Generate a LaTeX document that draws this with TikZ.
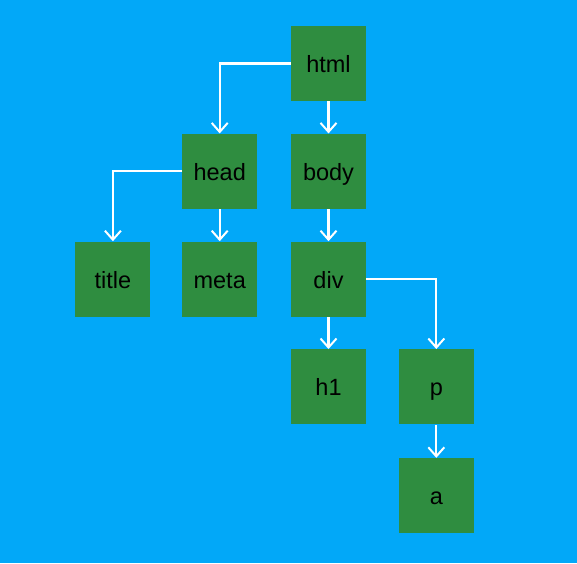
\documentclass[tikz,border=0pt]{standalone}
\usepackage{fontspec}
\setmainfont{Liberation Sans}
\usetikzlibrary{positioning, arrows.meta}

\definecolor{skyblue}{RGB}{2,168,248}
\definecolor{boxgreen}{RGB}{47,141,64}

\begin{document}
\begin{tikzpicture}[x=1pt, y=-1pt, >={Straight Barb[length=9pt, width=16pt, line width=2pt]}, thick,
  main node/.style={rectangle, fill=boxgreen, minimum size=75pt, inner sep=0pt, text height=20pt, text depth=2pt, font=\fontsize{23.5}{28}\selectfont},
  link/.style={->, draw=white, line width=2.2pt}]

  % Background
  \fill[skyblue] (0,0) rectangle (577,563);
  \useasboundingbox (0,0) rectangle (577,563);

  % Define nodes
  \node[main node] (html) at (328.5,63.5) {html};
  \node[main node] (body) [below=32pt of html] {body};
  \node[main node] (head) [left=33pt of body] {head};
  \node[main node] (meta) [below=32pt of head] {meta};
  \node[main node] (title) [left=31pt of meta] {title};
  \node[main node] (div) [below=32pt of body] {div};
  \node[main node] (h1) [below=32pt of div] {h1};
  \node[main node] (p) [right=32pt of h1] {p};
  \node[main node] (a) [below=33pt of p] {a};

  % Define edges
  \draw[link] (html.west) -| (head.north);
  \draw[link] (html) -- (body);
  \draw[link] (head.west) -| (title.north);
  \draw[link] (head) -- (meta);
  \draw[link] (body) -- (div);
  \draw[link] (div) -- (h1);
  \draw[link] (div.east) -| (p.north);
  \draw[link] (p) -- (a);
\end{tikzpicture}
\end{document}
